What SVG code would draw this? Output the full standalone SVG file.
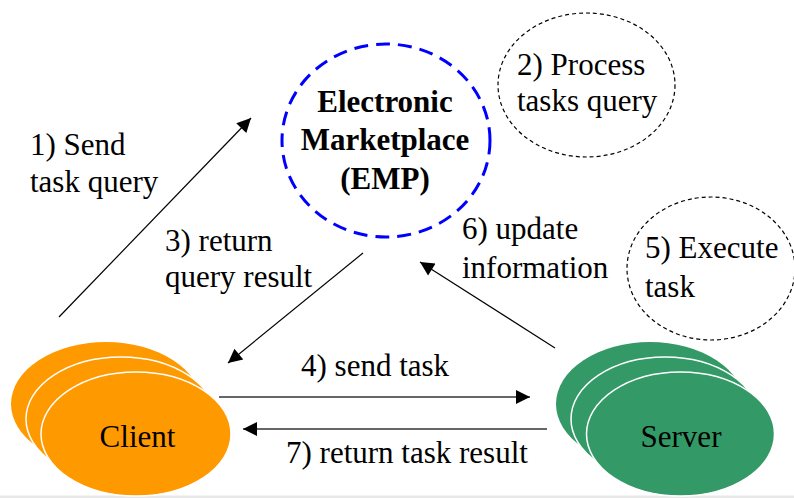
<svg xmlns="http://www.w3.org/2000/svg" width="794" height="498" viewBox="0 0 794 498">
<style>
text{font-family:'Liberation Serif','DejaVu Serif',serif;font-size:31px;fill:#000}
.b{font-weight:bold;text-anchor:middle}
.c{stroke:#fff;stroke-width:1.5}
.cl{fill:#ff9900}
.sv{fill:#339966}
.note{fill:none;stroke:#000;stroke-width:1.2;stroke-dasharray:4 3}
.ln{stroke:#000;stroke-width:1.2;fill:none;marker-end:url(#ah)}
.hl{stroke:#333;stroke-width:1.5;fill:none;marker-end:url(#ah)}
</style>
<defs>
<marker id="ah" viewBox="0 0 10 10" refX="10" refY="5" markerWidth="18" markerHeight="14" markerUnits="userSpaceOnUse" orient="auto">
<path d="M0,0 L10,5 L0,10 z" fill="#000"/>
</marker>
</defs>
<rect width="794" height="498" fill="#fff"/>
<rect x="0" y="495.5" width="794" height="2.5" fill="#e8e8e8"/>

<g id="emp">
<ellipse cx="386" cy="140.5" rx="104" ry="96.5" fill="none" stroke="#0000ff" stroke-width="3" stroke-dasharray="14 8"/>
<text class="b" x="385" y="112" font-family="Liberation Serif, serif">Electronic</text>
<text class="b" x="385" y="150" font-family="Liberation Serif, serif">Marketplace</text>
<text class="b" x="385" y="189" font-family="Liberation Serif, serif">(EMP)</text>
</g>

<g id="process">
<ellipse class="note" cx="586.5" cy="85" rx="88.5" ry="72"/>
<text x="517" y="75" font-family="Liberation Serif, serif">2) Process</text>
<text x="517" y="111" font-family="Liberation Serif, serif">tasks query</text>
</g>

<g id="execute">
<ellipse class="note" cx="711" cy="268.5" rx="84" ry="71.5"/>
<text x="645" y="258" font-family="Liberation Serif, serif">5) Execute</text>
<text x="645" y="297" font-family="Liberation Serif, serif">task</text>
</g>

<g id="client">
<ellipse class="cl" cx="106" cy="404" rx="95" ry="62"/>
<ellipse class="cl c" cx="121" cy="419" rx="95" ry="62"/>
<ellipse class="cl c" cx="136" cy="434" rx="95" ry="62"/>
<text x="137.5" y="447" text-anchor="middle" font-family="Liberation Serif, serif">Client</text>
</g>

<g id="server">
<ellipse class="sv" cx="650" cy="404" rx="94" ry="62"/>
<ellipse class="sv c" cx="665" cy="419" rx="94" ry="62"/>
<ellipse class="sv c" cx="680.5" cy="434" rx="94" ry="62"/>
<text x="681" y="447" text-anchor="middle" font-family="Liberation Serif, serif">Server</text>
</g>

<g id="connectors">
<line class="ln" x1="59" y1="317" x2="251" y2="118"/>
<line class="ln" x1="363" y1="253" x2="228" y2="363"/>
<line class="hl" x1="219" y1="397" x2="530" y2="397"/>
<line class="hl" x1="547" y1="429" x2="243" y2="429"/>
<line class="ln" x1="555" y1="348" x2="420" y2="262"/>
</g>

<g id="labels" font-family="Liberation Serif, serif">
<text x="30" y="155">1) Send</text>
<text x="30" y="192">task query</text>
<text x="165" y="251">3) return</text>
<text x="165" y="287">query result</text>
<text x="301" y="376">4) send task</text>
<text x="286" y="463">7) return task result</text>
<text x="462" y="239">6) update</text>
<text x="462" y="278">information</text>
</g>
</svg>
